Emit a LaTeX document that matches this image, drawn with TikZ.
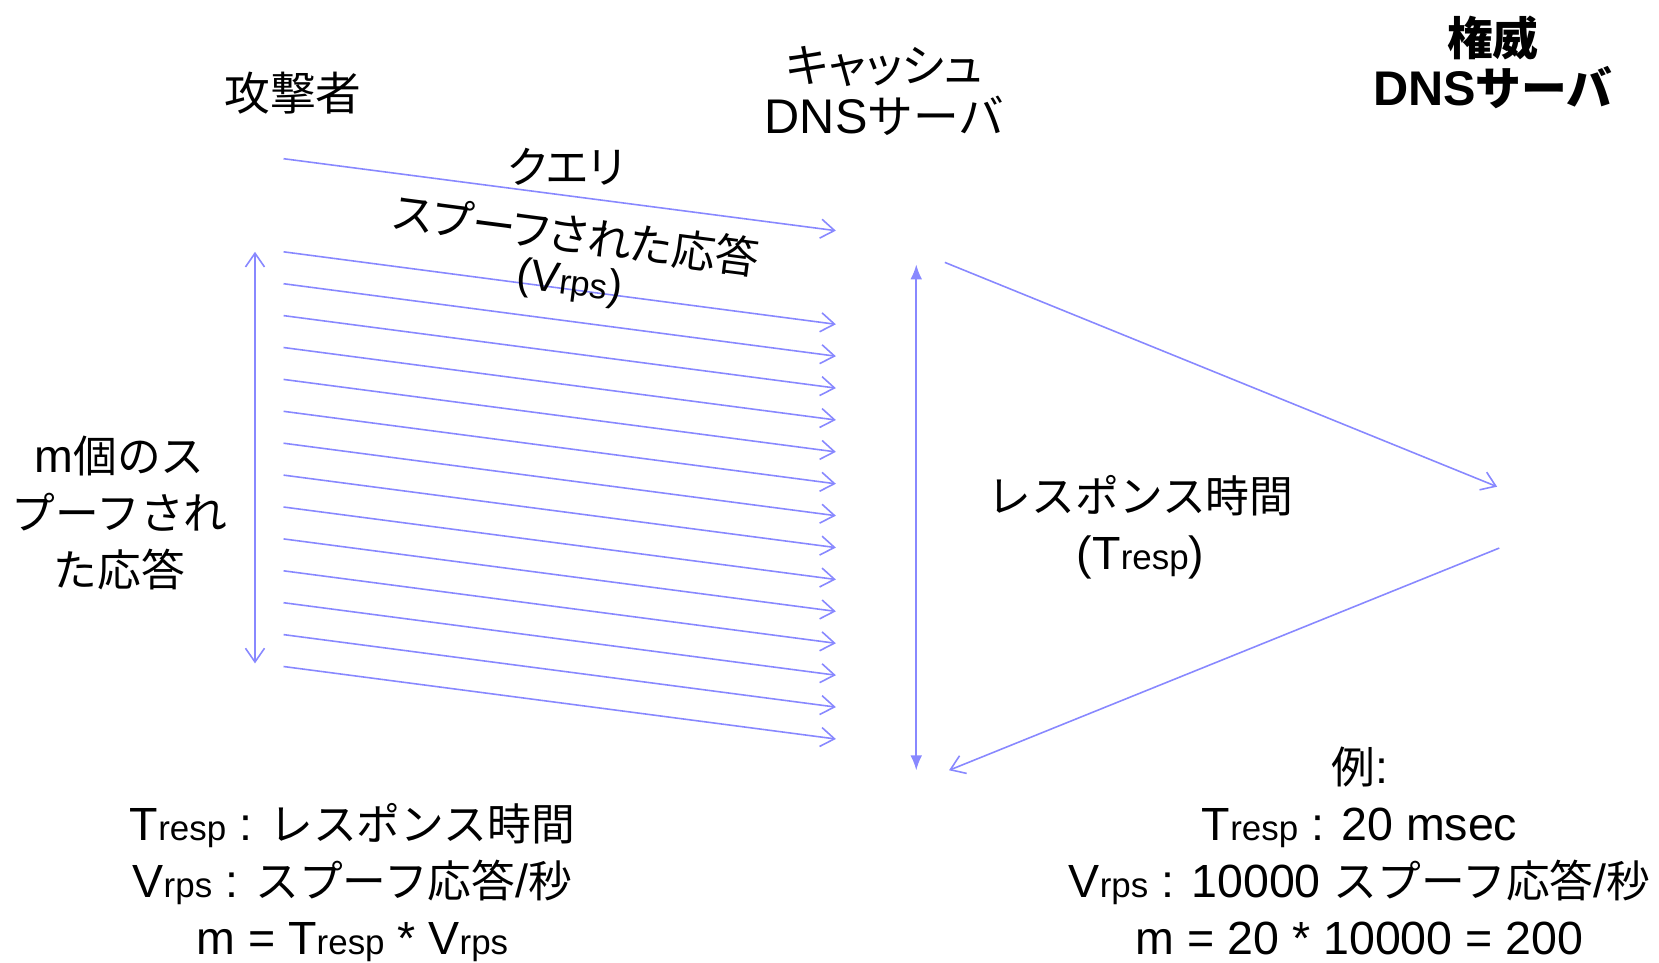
\documentclass[tikz,border=0pt]{standalone}
\usepackage{fontspec}
\setmainfont{Liberation Sans}
\newfontfamily\jp[Scale=0.94]{Noto Sans CJK JP}
\newfontfamily\jpp[Scale=0.94,RawFeature=+palt]{Noto Sans CJK JP}
\usetikzlibrary{arrows.meta}
\definecolor{arrowblue}{RGB}{136,136,255}
\newcommand\smpart[1]{{\fontsize{33}{33}\selectfont #1}}
\begin{document}
\begin{tikzpicture}[x=1pt,y=-1pt,
  barb/.tip={Straight Barb[length=13pt,width=18pt,line width=1.5pt]},
  conn/.style={draw=arrowblue, line width=1.5pt, -barb},
  dconn/.style={draw=arrowblue, line width=1.5pt, barb-barb},
  tconn/.style={draw=arrowblue, line width=1.5pt, {Latex[length=14pt,width=11pt]}-{Latex[length=14pt,width=11pt]}},
  title/.style={inner sep=0pt, align=center, font=\fontsize{46}{48}\selectfont},
  label/.style={inner sep=0pt, align=center, font=\fontsize{44}{54}\selectfont}
]
\useasboundingbox (0,0) rectangle (1568,910);

% titles
\node[title] (atk) at (277,88) {\jp 攻撃者};
\node[title] (cache) at (836,86) {{\jpp キャッシュ}\\DNS{\jp サーバ}};
\node[title, font=\fontsize{46}{48}\selectfont\bfseries] (auth) at (1411,59) {{\jp\bfseries 権威}\\DNS{\jp\bfseries サーバ}};

% query and spoofed responses
\coordinate (q1) at (268,150);
\coordinate (q2) at (790,218);
\draw[conn] (q1) -- (q2);
\foreach \i in {0,...,13} {
  \coordinate (s\i a) at (268,{238+30.15*\i});
  \coordinate (s\i b) at (790,{306.5+30.15*\i});
  \draw[conn] (s\i a) -- (s\i b);
}
\node[label] (query) at (535,158) {\jpp クエリ};
\node[label, rotate=-7.4] (spoof) at (545,222) {\jpp スプーフされた応答};
\node[label, rotate=-7.4, font=\fontsize{41}{54}\selectfont] (vrps) at (538,268) {(V\smpart{rps})};

% left extent
\coordinate (l1) at (241,238);
\coordinate (l2) at (241,627);
\draw[dconn] (l1) -- (l2);
\node[label] (mresp) at (113,485) {m{\jp 個のス}\\{\jp プーフされ}\\{\jp た応答}};

% response time
\coordinate (t1) at (866,250);
\coordinate (t2) at (866,728);
\draw[tconn] (t1) -- (t2);
\coordinate (r1) at (893,248);
\coordinate (r2) at (1415,460);
\coordinate (r3) at (1417,518);
\coordinate (r4) at (897,728);
\draw[conn] (r1) -- (r2);
\draw[conn] (r3) -- (r4);
\node[label] (rtime) at (1078,498) {{\jp レスポンス時間}\\(T\smpart{resp})};

% legends
\node[label] (legend) at (333,834) {T\smpart{resp} : {\jp レスポンス時間}\\V\smpart{rps} : {\jp スプーフ応答}/{\jp 秒}\\m = T\smpart{resp} * V\smpart{rps}};
\node[label] (example) at (1285,804) {{\jp 例}:\\T\smpart{resp} : 20 msec\\V\smpart{rps} : 10000 {\jp スプーフ応答}/{\jp 秒}\\m = 20 * 10000 = 200};
\end{tikzpicture}
\end{document}
